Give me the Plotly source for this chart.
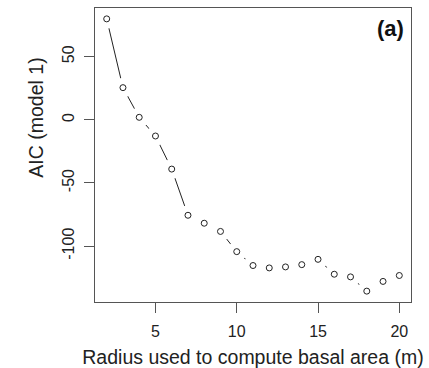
import plotly.graph_objects as go

# AIC of model 1 for each neighbourhood radius used to compute basal area
radius = [2, 3, 4, 5, 6, 7, 8, 9, 10, 11, 12, 13, 14, 15, 16, 17, 18, 19, 20]
aic = [80, 25.5, 2, -12.8, -39, -75.6, -81.9, -88.4, -104.4, -115.4, -117.3,
       -116.5, -114.7, -110.5, -122.3, -124.4, -135.7, -128, -123.3]

x_ticks = [5, 10, 15, 20]
y_ticks = [-100, -50, 0, 50]

font_family = "Liberation Sans, Arial, sans-serif"
ink = "#222222"

fig = go.Figure()

# connecting line ("b" style: broken around each point)
fig.add_trace(go.Scatter(x=radius, y=aic, mode="lines",
                         line=dict(color=ink, width=1),
                         hoverinfo="skip", showlegend=False))
# white discs that open gaps in the line around each point
fig.add_trace(go.Scatter(x=radius, y=aic, mode="markers",
                         marker=dict(symbol="circle", size=20, color="white",
                                     line=dict(width=0)),
                         hoverinfo="skip", showlegend=False))
# open circle markers
fig.add_trace(go.Scatter(x=radius, y=aic, mode="markers",
                         marker=dict(symbol="circle-open", size=6, color=ink,
                                     line=dict(width=1, color=ink)),
                         showlegend=False))

# panel label
fig.add_annotation(text="<b>(a)</b>", xref="paper", yref="paper",
                   x=1, y=1, xanchor="right", yanchor="top",
                   xshift=-5, yshift=-6, showarrow=False,
                   font=dict(family=font_family, size=22, color="#111111"))

# y-axis title
fig.add_annotation(text="AIC (model 1)", xref="paper", yref="paper",
                   x=0, y=0.627, xanchor="center", yanchor="middle",
                   xshift=-59, textangle=-90, showarrow=False,
                   font=dict(family=font_family, size=19.5, color=ink))

axis_common = dict(showline=True, linecolor="#555555", linewidth=1.3,
                   mirror=True, ticks="outside", ticklen=10, tickwidth=1,
                   tickcolor="#555555", showgrid=False, zeroline=False,
                   automargin=False,
                   tickfont=dict(family=font_family, size=16, color=ink))

fig.update_xaxes(range=[1.28, 20.72], tickvals=x_ticks,
                 ticktext=[str(v) for v in x_ticks],
                 ticklabelstandoff=5,
                 title=dict(text="Radius used to compute basal area (m)",
                            font=dict(family=font_family, size=19.5,
                                      color=ink),
                            standoff=11),
                 **axis_common)
fig.update_yaxes(range=[-144.3, 88.6], tickvals=y_ticks,
                 ticktext=[str(v) for v in y_ticks], tickangle=-90,
                 ticklabelstandoff=3,
                 **axis_common)

fig.update_layout(width=429, height=368,
                  margin=dict(l=95, r=18, t=8, b=66),
                  plot_bgcolor="white", paper_bgcolor="white")

fig.write_html("out.html")
